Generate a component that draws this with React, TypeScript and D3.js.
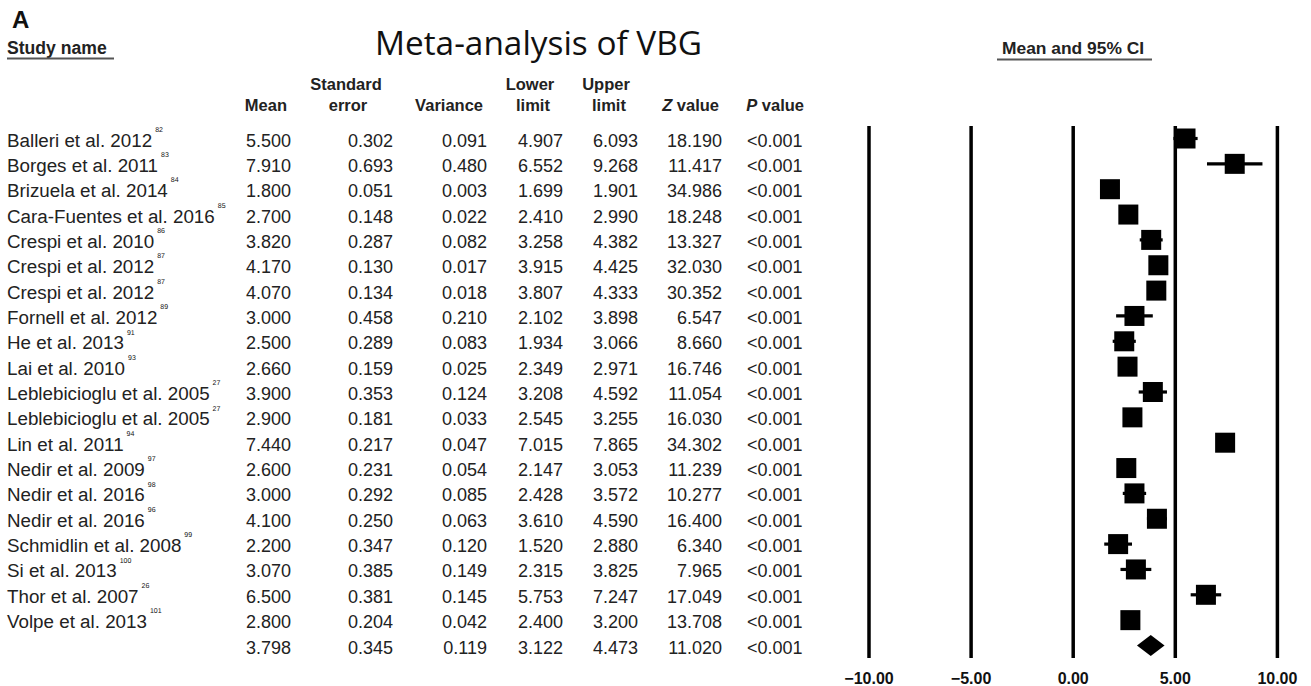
import React from "react";
import * as d3 from "d3";

const studies = [
  "Balleri et al. 2012",
  "Borges et al. 2011",
  "Brizuela et al. 2014",
  "Cara-Fuentes et al. 2016",
  "Crespi et al. 2010",
  "Crespi et al. 2012",
  "Crespi et al. 2012",
  "Fornell et al. 2012",
  "He et al. 2013",
  "Lai et al. 2010",
  "Leblebicioglu et al. 2005",
  "Leblebicioglu et al. 2005",
  "Lin et al. 2011",
  "Nedir et al. 2009",
  "Nedir et al. 2016",
  "Nedir et al. 2016",
  "Schmidlin et al. 2008",
  "Si et al. 2013",
  "Thor et al. 2007",
  "Volpe et al. 2013",
];
const refs = ["82", "83", "84", "85", "86", "87", "87", "89", "91", "93", "27", "27", "94", "97", "98", "96", "99", "100", "26", "101"];
const means = [5.5, 7.91, 1.8, 2.7, 3.82, 4.17, 4.07, 3.0, 2.5, 2.66, 3.9, 2.9, 7.44, 2.6, 3.0, 4.1, 2.2, 3.07, 6.5, 2.8];
const stdErrors = [0.302, 0.693, 0.051, 0.148, 0.287, 0.13, 0.134, 0.458, 0.289, 0.159, 0.353, 0.181, 0.217, 0.231, 0.292, 0.25, 0.347, 0.385, 0.381, 0.204];
const variances = [0.091, 0.48, 0.003, 0.022, 0.082, 0.017, 0.018, 0.21, 0.083, 0.025, 0.124, 0.033, 0.047, 0.054, 0.085, 0.063, 0.12, 0.149, 0.145, 0.042];
const lowers = [4.907, 6.552, 1.699, 2.41, 3.258, 3.915, 3.807, 2.102, 1.934, 2.349, 3.208, 2.545, 7.015, 2.147, 2.428, 3.61, 1.52, 2.315, 5.753, 2.4];
const uppers = [6.093, 9.268, 1.901, 2.99, 4.382, 4.425, 4.333, 3.898, 3.066, 2.971, 4.592, 3.255, 7.865, 3.053, 3.572, 4.59, 2.88, 3.825, 7.247, 3.2];
const zValues = [18.19, 11.417, 34.986, 18.248, 13.327, 32.03, 30.352, 6.547, 8.66, 16.746, 11.054, 16.03, 34.302, 11.239, 10.277, 16.4, 6.34, 7.965, 17.049, 13.708];
const pValues = studies.map(() => "<0.001");

const summary = { mean: 3.798, se: 0.345, variance: 0.119, lower: 3.122, upper: 4.473, z: 11.02, p: "<0.001" };

const axisTicks = [-10, -5, 0, 5, 10];

const W = 1311;
const H = 686;
const FONT = "'Liberation Sans', Arial, Helvetica, sans-serif";
const NAME_SIZE = 18.8;

export default function App() {
  const nRows = studies.length + 1;
  const y = d3.scaleLinear().domain([0, nRows - 1]).range([138.5, 138.5 + 25.35 * (nRows - 1)]);
  const x = d3.scaleLinear().domain([-10, 10]).range([869, 1277.4]);
  const f3 = d3.format(".3f");
  const f2 = d3.format(".2f");
  const sq = 20;

  const colRight = { mean: 291, se: 393, variance: 487, lower: 563, upper: 638, z: 722 };
  const pLeft = 747;

  const rows = studies.map((name, i) => ({
    name,
    ref: refs[i],
    mean: means[i],
    se: stdErrors[i],
    variance: variances[i],
    lower: lowers[i],
    upper: uppers[i],
    z: zValues[i],
    p: pValues[i],
  }));

  const plotTop = 126;
  const plotBottom = 658;
  const si = studies.length;
  const sy = y(si);

  return (
    <svg width={W} height={H} style={{ position: "absolute", left: 0, top: 0, display: "block", background: "#fff" }} fontFamily={FONT}>
      <rect width={W} height={H} fill="#fff" />
      {/* panel letter */}
      <text x={12} y={28} fontSize={24} fontWeight="bold" fill="#111">A</text>
      {/* headers */}
      <text x={7} y={53.5} fontSize={17.6} fontWeight="bold" fill="#222">Study name</text>
      <line x1={7} x2={114} y1={58.5} y2={58.5} stroke="#555" strokeWidth={2} />
      <text x={375} y={55} fontSize={32} fontFamily="'Open Sans', 'Noto Sans', sans-serif" fill="#111" textLength={327} lengthAdjust="spacingAndGlyphs">Meta-analysis of VBG</text>
      <text x={1002} y={54} fontSize={17.4} fontWeight="bold" fill="#222">Mean and 95% CI</text>
      <line x1={997} x2={1152} y1={59.5} y2={59.5} stroke="#555" strokeWidth={2} />

      <g fontSize={16.5} fontWeight="bold" fill="#222">
        <text x={287} y={111} textAnchor="end">Mean</text>
        <text x={346} y={90} textAnchor="middle">Standard</text>
        <text x={348} y={111} textAnchor="middle">error</text>
        <text x={483} y={111} textAnchor="end">Variance</text>
        <text x={530} y={90} textAnchor="middle">Lower</text>
        <text x={533} y={111} textAnchor="middle">limit</text>
        <text x={606} y={90} textAnchor="middle">Upper</text>
        <text x={609} y={111} textAnchor="middle">limit</text>
        <text x={719} y={111} textAnchor="end"><tspan fontStyle="italic">Z</tspan> value</text>
        <text x={804} y={111} textAnchor="end"><tspan fontStyle="italic">P</tspan> value</text>
      </g>

      {/* table rows */}
      <g fontSize={18} fill="#222">
        {rows.map((r, i) => {
          const base = y(i) + 8;
          return (
            <g key={i}>
              <text x={7} y={base} fontSize={NAME_SIZE}>{r.name}</text>
              <NameRef name={r.name} refNum={r.ref} base={base} />
              <text x={colRight.mean} y={base} textAnchor="end">{f3(r.mean)}</text>
              <text x={colRight.se} y={base} textAnchor="end">{f3(r.se)}</text>
              <text x={colRight.variance} y={base} textAnchor="end">{f3(r.variance)}</text>
              <text x={colRight.lower} y={base} textAnchor="end">{f3(r.lower)}</text>
              <text x={colRight.upper} y={base} textAnchor="end">{f3(r.upper)}</text>
              <text x={colRight.z} y={base} textAnchor="end">{f3(r.z)}</text>
              <text x={pLeft} y={base}>{r.p}</text>
            </g>
          );
        })}
        <g>
          <text x={colRight.mean} y={sy + 8} textAnchor="end">{f3(summary.mean)}</text>
          <text x={colRight.se} y={sy + 8} textAnchor="end">{f3(summary.se)}</text>
          <text x={colRight.variance} y={sy + 8} textAnchor="end">{f3(summary.variance)}</text>
          <text x={colRight.lower} y={sy + 8} textAnchor="end">{f3(summary.lower)}</text>
          <text x={colRight.upper} y={sy + 8} textAnchor="end">{f3(summary.upper)}</text>
          <text x={colRight.z} y={sy + 8} textAnchor="end">{f3(summary.z)}</text>
          <text x={pLeft} y={sy + 8}>{summary.p}</text>
        </g>
      </g>

      {/* forest plot grid lines */}
      {axisTicks.map((t) => (
        <line key={t} x1={x(t)} x2={x(t)} y1={plotTop} y2={plotBottom} stroke="#000" strokeWidth={3.5} />
      ))}
      {axisTicks.map((t) => (
        <text key={"l" + t} x={x(t)} y={684} fontSize={16} fontWeight="bold" textAnchor="middle" fill="#111">{f2(t)}</text>
      ))}

      {/* CIs and squares */}
      {rows.map((r, i) => (
        <g key={"m" + i}>
          <line x1={x(r.lower)} x2={x(r.upper)} y1={y(i)} y2={y(i)} stroke="#000" strokeWidth={3.2} />
          <rect x={x(r.mean) - sq / 2} y={y(i) - sq / 2} width={sq} height={sq} fill="#000" />
        </g>
      ))}
      {/* summary diamond */}
      <path
        d={`M${x(summary.lower)},${sy} L${x(summary.mean)},${sy - 10.5} L${x(summary.upper)},${sy} L${x(summary.mean)},${sy + 10.5} Z`}
        fill="#000"
      />
    </svg>
  );
}

function NameRef({ name, refNum, base }: { name: string; refNum: string; base: number }) {
  const ref = React.useRef<SVGTextElement>(null);
  const [w, setW] = React.useState(0);
  React.useLayoutEffect(() => {
    if (ref.current) setW(ref.current.getComputedTextLength());
  }, [name]);
  return (
    <>
      <text ref={ref} x={7} y={base} fontSize={NAME_SIZE} fill="none" visibility="hidden">{name}</text>
      <text x={7 + w + 3} y={base - 14.8} fontSize={7} fill="#111" style={{ textRendering: "geometricPrecision" }}>{refNum}</text>
    </>
  );
}
